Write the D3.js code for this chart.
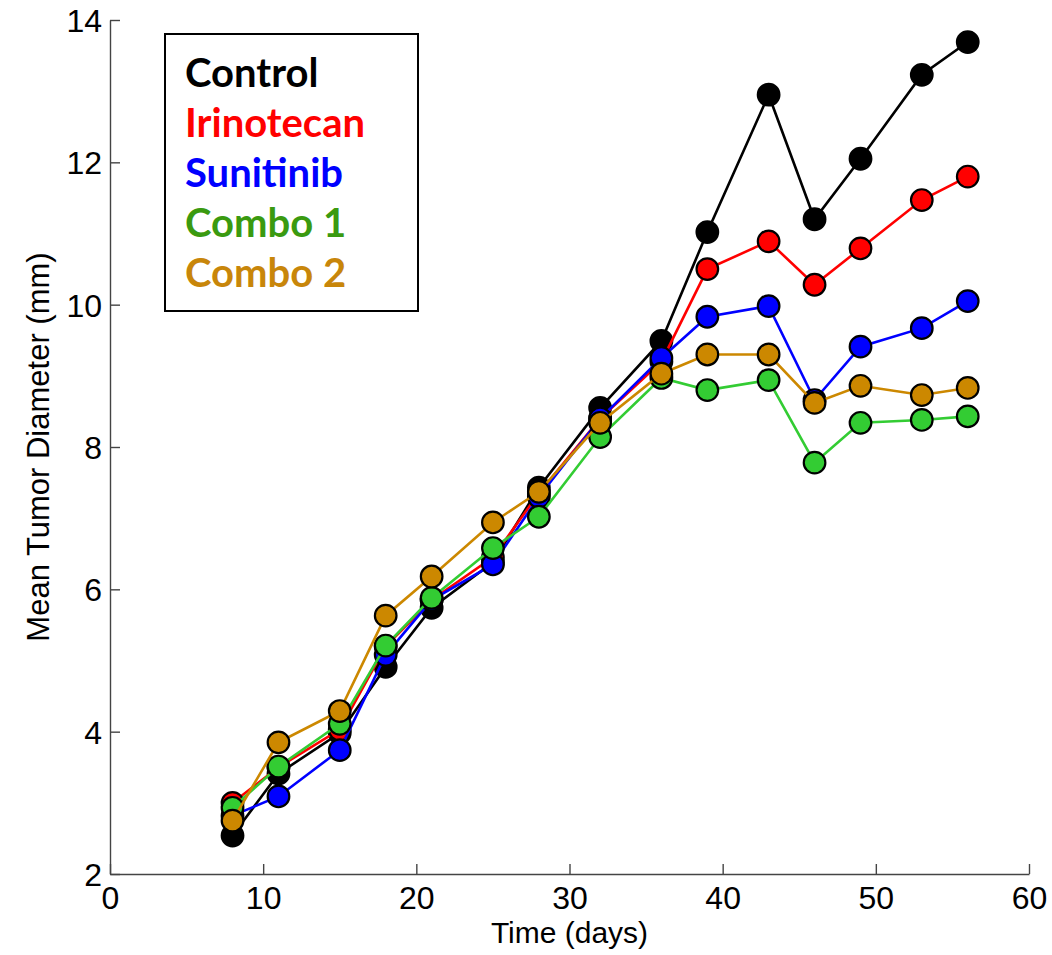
<!DOCTYPE html>
<html>
<head>
<meta charset="utf-8">
<script src="https://cdn.jsdelivr.net/npm/d3@7"></script>
<style>
  body { margin: 0; background: #fff; }
  svg { display: block; }
</style>
</head>
<body>
<svg id="chart" width="1052" height="955"></svg>
<script>
// days measured
const days = [8, 11, 15, 18, 21, 25, 28, 32, 36, 39, 43, 46, 49, 53, 56];

// mean tumor diameter (mm)
const control    = [2.54, 3.41, 3.98, 4.91, 5.74, 6.38, 7.43, 8.55, 9.49, 11.02, 12.95, 11.20, 12.05, 13.23, 13.69];
const irinotecan = [3.00, 3.50, 4.03, 5.20, 5.85, 6.45, 7.35, 8.40, 9.20, 10.50, 10.89, 10.28, 10.79, 11.47, 11.80];
const sunitinib  = [2.82, 3.09, 3.74, 5.08, 5.85, 6.35, 7.30, 8.40, 9.25, 9.83, 9.98, 8.66, 9.41, 9.67, 10.05];
const combo1     = [2.93, 3.51, 4.11, 5.21, 5.88, 6.58, 7.02, 8.14, 8.97, 8.80, 8.94, 7.78, 8.34, 8.38, 8.43];
const combo2     = [2.75, 3.85, 4.29, 5.63, 6.18, 6.94, 7.37, 8.34, 9.03, 9.30, 9.30, 8.62, 8.86, 8.73, 8.83];

const seriesNames  = ["Control", "Irinotecan", "Sunitinib", "Combo 1", "Combo 2"];
const seriesValues = [control, irinotecan, sunitinib, combo1, combo2];
const markerColors = ["#000000", "#ff0000", "#0000ff", "#33cc33", "#cc8800"];
const legendColors = ["#000000", "#ff0000", "#0000ff", "#3a9a10", "#c8860a"];

const xTicks = [0, 10, 20, 30, 40, 50, 60];
const yTicks = [2, 4, 6, 8, 10, 12, 14];

const svg = d3.select("#chart");

const x = d3.scaleLinear().domain([0, 60]).range([110, 1029]);
const y = d3.scaleLinear().domain([2, 14]).range([874, 20]);

// axes (ticks point inward, like matlab "box off")
const xAxis = svg.append("g")
    .attr("transform", `translate(0,${y(2)})`)
    .call(d3.axisBottom(x).tickValues(xTicks).tickSizeInner(-10).tickSizeOuter(0).tickPadding(12));
const yAxis = svg.append("g")
    .attr("transform", `translate(${x(0)},0)`)
    .call(d3.axisLeft(y).tickValues(yTicks).tickSizeInner(-10).tickSizeOuter(0).tickPadding(8));

[xAxis, yAxis].forEach(g => {
    g.select(".domain").attr("stroke", "#444").attr("stroke-width", 1.4);
    g.selectAll(".tick line").attr("stroke", "#444").attr("stroke-width", 1.4);
    g.selectAll(".tick text")
        .attr("fill", "#000")
        .style("font-family", "'Liberation Sans', Arial, sans-serif")
        .style("font-size", "32px");
});
xAxis.selectAll(".tick text").attr("dy", "0.71em");
yAxis.selectAll(".tick text").attr("dy", "0.36em");

// axis labels
svg.append("text")
    .attr("x", (x(0) + x(60)) / 2)
    .attr("y", 943)
    .attr("text-anchor", "middle")
    .style("font-family", "'Liberation Sans', Arial, sans-serif")
    .style("font-size", "30px")
    .text("Time (days)");

svg.append("text")
    .attr("transform", `translate(49,${(y(2) + y(14)) / 2}) rotate(-90)`)
    .attr("text-anchor", "middle")
    .style("font-family", "'Liberation Sans', Arial, sans-serif")
    .style("font-size", "31px")
    .text("Mean Tumor Diameter (mm)");

// series: line then markers, drawn in order
const line = d3.line()
    .x((d, i) => x(days[i]))
    .y(d => y(d));

seriesValues.forEach((vals, s) => {
    const g = svg.append("g");
    g.append("path")
        .datum(vals)
        .attr("fill", "none")
        .attr("stroke", markerColors[s])
        .attr("stroke-width", 2.6)
        .attr("d", line);
    g.selectAll("circle")
        .data(vals)
        .join("circle")
        .attr("cx", (d, i) => x(days[i]))
        .attr("cy", d => y(d))
        .attr("r", 10.8)
        .attr("fill", markerColors[s])
        .attr("stroke", "#000")
        .attr("stroke-width", 2.2);
});

// legend box
const legend = svg.append("g");
legend.append("rect")
    .attr("x", 165)
    .attr("y", 34)
    .attr("width", 253)
    .attr("height", 277)
    .attr("fill", "#fff")
    .attr("stroke", "#000")
    .attr("stroke-width", 2);

legend.selectAll("text")
    .data(seriesNames)
    .join("text")
    .attr("x", 185)
    .attr("y", (d, i) => 87 + i * 50)
    .attr("fill", (d, i) => legendColors[i])
    .style("font-family", "Lato, 'Open Sans', sans-serif")
    .style("font-weight", "bold")
    .style("font-size", "40px")
    .text(d => d);
</script>
</body>
</html>
